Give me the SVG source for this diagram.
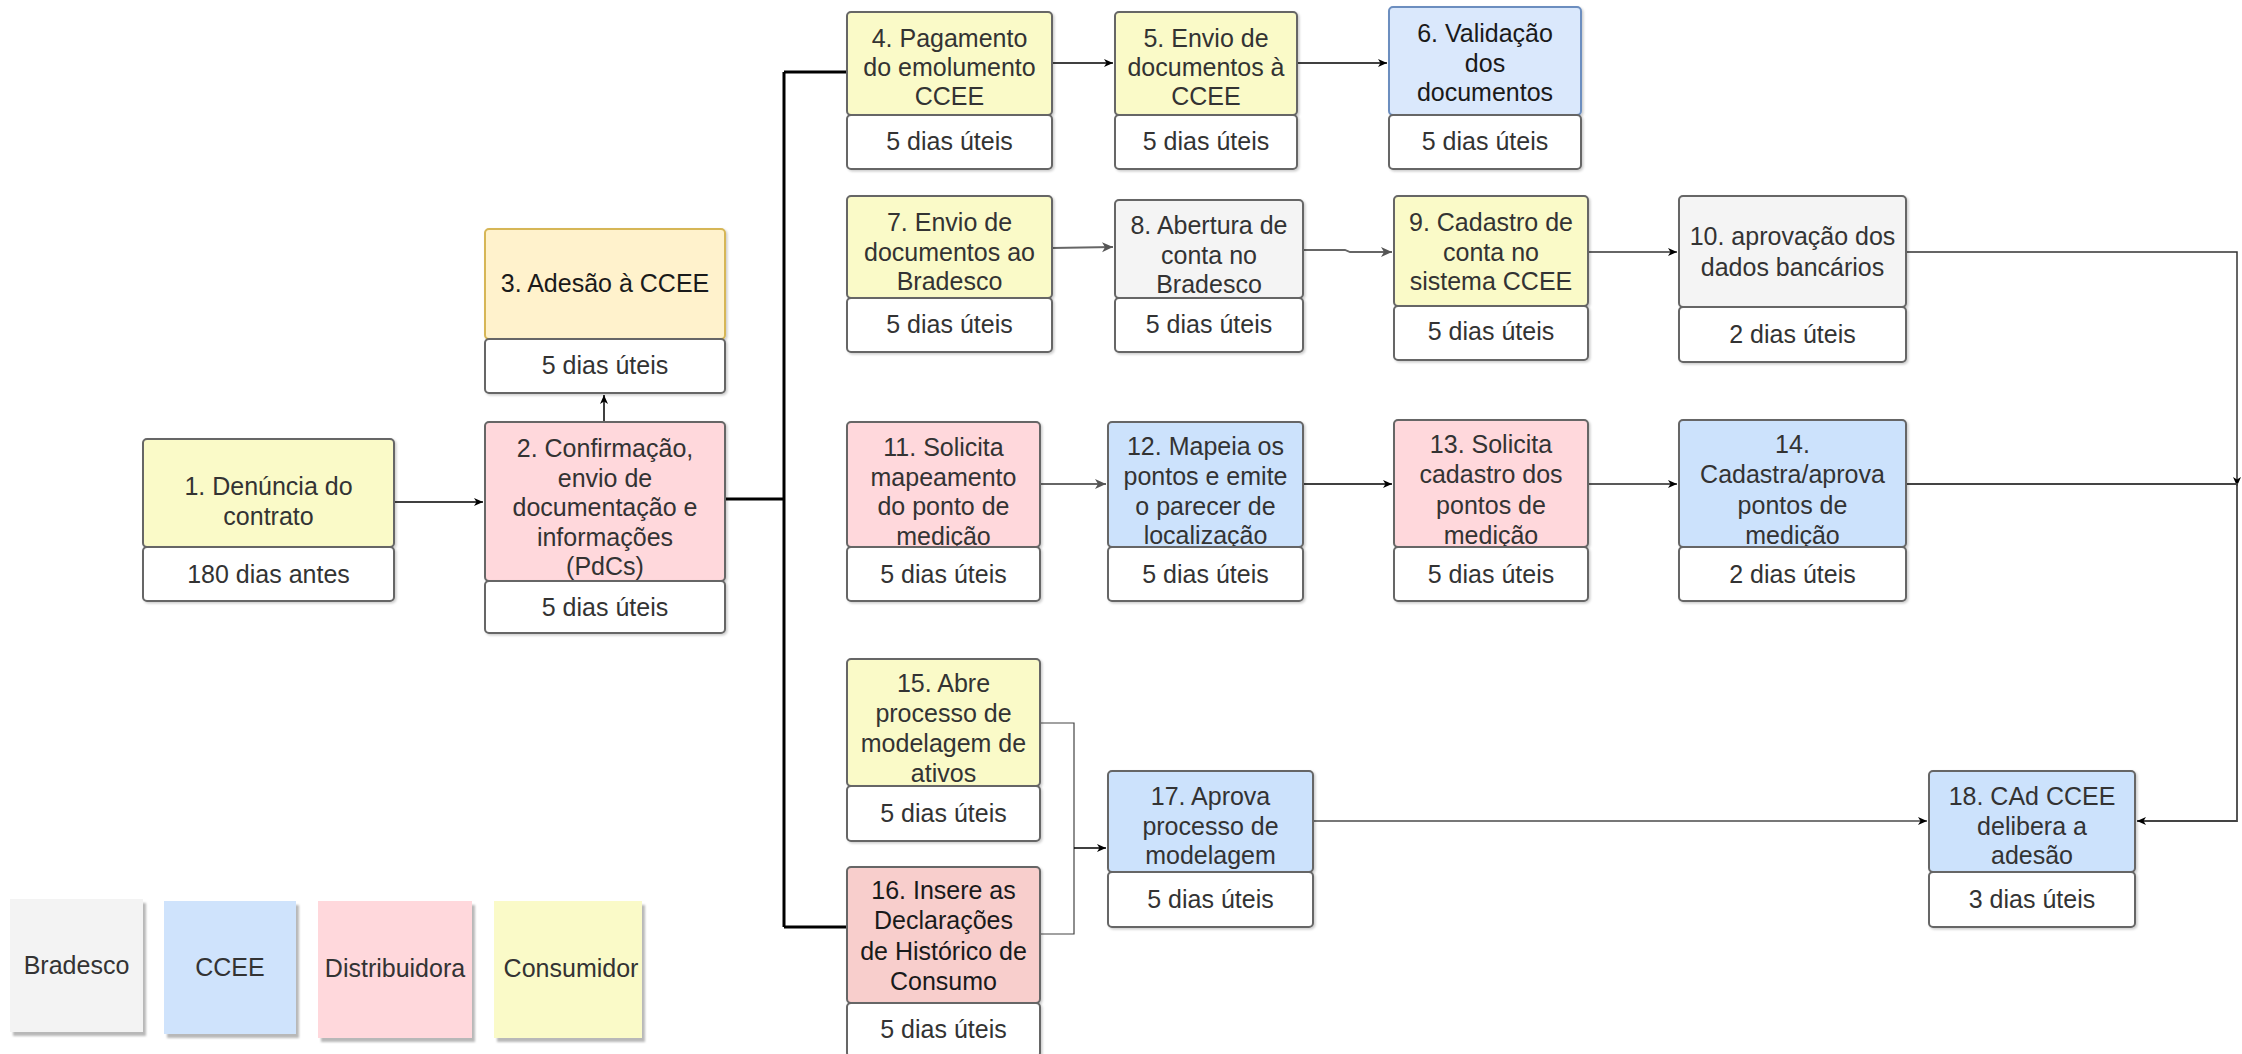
<svg xmlns="http://www.w3.org/2000/svg" width="2242" height="1054" viewBox="0 0 2242 1054">
<defs>
<style>
.t{font-family:"Liberation Sans",Arial,sans-serif;font-size:25px;fill:#333;text-anchor:middle}
.dk{fill:#1a1a1a}
.b{stroke:#666;stroke-width:2;filter:url(#sh)}
.sub{fill:#fff}
.y{fill:#fafac8}
.p{fill:#ffd8dc}
.p2{fill:#f8cecc}
.bl{fill:#cce2fc}
.g{fill:#f4f4f4}
.c{fill:none;stroke:#000;stroke-width:1.5}
.cg{fill:none;stroke:#666;stroke-width:1.8}
.thick{fill:none;stroke:#000;stroke-width:3}
.leg{filter:url(#lsh)}
</style>
<filter id="sh" x="-10%" y="-10%" width="130%" height="130%"><feDropShadow dx="1.5" dy="1.5" stdDeviation="1" flood-color="#000" flood-opacity="0.2"/></filter>
<filter id="lsh" x="-10%" y="-10%" width="130%" height="130%"><feDropShadow dx="3" dy="4" stdDeviation="0.8" flood-color="#000" flood-opacity="0.28"/></filter>
<marker id="a" markerWidth="10" markerHeight="10" refX="9" refY="5" orient="auto" markerUnits="userSpaceOnUse"><path d="M0,1 L9,5 L0,9 L2.5,5 Z" fill="#000"/></marker>
<marker id="ag" markerWidth="12" markerHeight="12" refX="11" refY="6" orient="auto" markerUnits="userSpaceOnUse"><path d="M0,1 L11,6 L0,11 L3,6 Z" fill="#555"/></marker>
</defs>
<rect width="2242" height="1054" fill="#fff"/>

<g id="connectors">
<path class="c" d="M394,502 L483,502" marker-end="url(#a)"/>
<path class="c" d="M604,422 L604,395" marker-end="url(#a)"/>
<path class="thick" d="M725,499 L784,499 M784,72 L784,927 M784,72 L847,72 M784,927 L847,927"/>
<path class="c" d="M1052,63 L1113,63" marker-end="url(#a)"/>
<path class="c" d="M1297,63 L1387,63" marker-end="url(#a)"/>
<path class="cg" d="M1052,248 L1113,247" marker-end="url(#ag)"/>
<path class="cg" d="M1303,250 L1345,250 L1350,252 L1392,252" marker-end="url(#ag)"/>
<path class="c" style="stroke:#333" d="M1588,252 L1677,252" marker-end="url(#a)"/>
<path class="c" style="stroke:#333" d="M1906,252 L2237,252 L2237,486" marker-end="url(#a)"/>
<path class="cg" d="M1040,484 L1106,484" marker-end="url(#ag)"/>
<path class="c" d="M1303,484 L1392,484" marker-end="url(#a)"/>
<path class="c" style="stroke:#222" d="M1588,484 L1677,484" marker-end="url(#a)"/>
<path class="cg" style="stroke:#444" d="M1906,484 L2237,484 L2237,821 L2137,821" marker-end="url(#a)"/>
<path class="c" style="stroke:#444;stroke-width:1.2" d="M1040,723 L1074,723 L1074,934 L1040,934"/>
<path class="c" d="M1074,848 L1106,848" marker-end="url(#a)"/>
<path class="cg" style="stroke:#777;stroke-width:2.2" d="M1313,821 L1927,821" marker-end="url(#a)"/>
</g>

<g id="node1">
<rect class="b y" x="143" y="439" width="251" height="108" rx="4"/>
<text class="t" x="268.5" y="495">1. Denúncia do</text>
<text class="t" x="268.5" y="525">contrato</text>
<rect class="b sub" x="143" y="547" width="251" height="54" rx="4"/>
<text class="t" x="268.5" y="583">180 dias antes</text>
</g>

<g id="node2">
<rect class="b p" x="485" y="422" width="240" height="159" rx="4"/>
<text class="t" x="605" y="457">2. Confirmação,</text>
<text class="t" x="605" y="487">envio de</text>
<text class="t" x="605" y="516">documentação e</text>
<text class="t" x="605" y="546">informações</text>
<text class="t" x="605" y="575">(PdCs)</text>
<rect class="b sub" x="485" y="581" width="240" height="52" rx="4"/>
<text class="t" x="605" y="616">5 dias úteis</text>
</g>

<g id="node3">
<rect x="485" y="229" width="240" height="110" rx="4" fill="#fff2cc" stroke="#d6b656" stroke-width="2" filter="url(#sh)"/>
<text class="t dk" x="605" y="292">3. Adesão à CCEE</text>
<rect class="b sub" x="485" y="339" width="240" height="54" rx="4"/>
<text class="t" x="605" y="374">5 dias úteis</text>
</g>

<g id="node4">
<rect class="b y" x="847" y="12" width="205" height="103" rx="4"/>
<text class="t" x="949.5" y="47">4. Pagamento</text>
<text class="t" x="949.5" y="76">do emolumento</text>
<text class="t" x="949.5" y="105">CCEE</text>
<rect class="b sub" x="847" y="115" width="205" height="54" rx="4"/>
<text class="t" x="949.5" y="150">5 dias úteis</text>
</g>

<g id="node5">
<rect class="b y" x="1115" y="12" width="182" height="103" rx="4"/>
<text class="t" x="1206" y="47">5. Envio de</text>
<text class="t" x="1206" y="76">documentos à</text>
<text class="t" x="1206" y="105">CCEE</text>
<rect class="b sub" x="1115" y="115" width="182" height="54" rx="4"/>
<text class="t" x="1206" y="150">5 dias úteis</text>
</g>

<g id="node6">
<rect x="1389" y="7" width="192" height="108" rx="4" fill="#dae8fc" stroke="#6c8ebf" stroke-width="2" filter="url(#sh)"/>
<text class="t dk" x="1485" y="42">6. Validação</text>
<text class="t dk" x="1485" y="72">dos</text>
<text class="t dk" x="1485" y="101">documentos</text>
<rect class="b sub" x="1389" y="115" width="192" height="54" rx="4"/>
<text class="t" x="1485" y="150">5 dias úteis</text>
</g>

<g id="node7">
<rect class="b y" x="847" y="196" width="205" height="102" rx="4"/>
<text class="t" x="949.5" y="231">7. Envio de</text>
<text class="t" x="949.5" y="261">documentos ao</text>
<text class="t" x="949.5" y="290">Bradesco</text>
<rect class="b sub" x="847" y="298" width="205" height="54" rx="4"/>
<text class="t" x="949.5" y="333">5 dias úteis</text>
</g>

<g id="node8">
<rect class="b g" x="1115" y="200" width="188" height="98" rx="4"/>
<text class="t" x="1209" y="234">8. Abertura de</text>
<text class="t" x="1209" y="264">conta no</text>
<text class="t" x="1209" y="293">Bradesco</text>
<rect class="b sub" x="1115" y="298" width="188" height="54" rx="4"/>
<text class="t" x="1209" y="333">5 dias úteis</text>
</g>

<g id="node9">
<rect class="b y" x="1394" y="196" width="194" height="110" rx="4"/>
<text class="t" x="1491" y="231">9. Cadastro de</text>
<text class="t" x="1491" y="261">conta no</text>
<text class="t" x="1491" y="290">sistema CCEE</text>
<rect class="b sub" x="1394" y="306" width="194" height="54" rx="4"/>
<text class="t" x="1491" y="340">5 dias úteis</text>
</g>

<g id="node10">
<rect class="b g" x="1679" y="196" width="227" height="111" rx="4"/>
<text class="t" x="1792.5" y="245">10. aprovação dos</text>
<text class="t" x="1792.5" y="276">dados bancários</text>
<rect class="b sub" x="1679" y="307" width="227" height="55" rx="4"/>
<text class="t" x="1792.5" y="343">2 dias úteis</text>
</g>

<g id="node11">
<rect class="b p" x="847" y="422" width="193" height="125" rx="4"/>
<text class="t" x="943.5" y="456">11. Solicita</text>
<text class="t" x="943.5" y="486">mapeamento</text>
<text class="t" x="943.5" y="515">do ponto de</text>
<text class="t" x="943.5" y="545">medição</text>
<rect class="b sub" x="847" y="547" width="193" height="54" rx="4"/>
<text class="t" x="943.5" y="583">5 dias úteis</text>
</g>

<g id="node12">
<rect class="b bl" x="1108" y="422" width="195" height="125" rx="4"/>
<text class="t" x="1205.5" y="455">12. Mapeia os</text>
<text class="t" x="1205.5" y="485">pontos e emite</text>
<text class="t" x="1205.5" y="515">o parecer de</text>
<text class="t" x="1205.5" y="544">localização</text>
<rect class="b sub" x="1108" y="547" width="195" height="54" rx="4"/>
<text class="t" x="1205.5" y="583">5 dias úteis</text>
</g>

<g id="node13">
<rect class="b p" x="1394" y="420" width="194" height="127" rx="4"/>
<text class="t" x="1491" y="453">13. Solicita</text>
<text class="t" x="1491" y="483">cadastro dos</text>
<text class="t" x="1491" y="514">pontos de</text>
<text class="t" x="1491" y="544">medição</text>
<rect class="b sub" x="1394" y="547" width="194" height="54" rx="4"/>
<text class="t" x="1491" y="583">5 dias úteis</text>
</g>

<g id="node14">
<rect class="b bl" x="1679" y="420" width="227" height="127" rx="4"/>
<text class="t" x="1792.5" y="453">14.</text>
<text class="t" x="1792.5" y="483">Cadastra/aprova</text>
<text class="t" x="1792.5" y="514">pontos de</text>
<text class="t" x="1792.5" y="544">medição</text>
<rect class="b sub" x="1679" y="547" width="227" height="54" rx="4"/>
<text class="t" x="1792.5" y="583">2 dias úteis</text>
</g>

<g id="node15">
<rect class="b y" x="847" y="659" width="193" height="127" rx="4"/>
<text class="t" x="943.5" y="692">15. Abre</text>
<text class="t" x="943.5" y="722">processo de</text>
<text class="t" x="943.5" y="752">modelagem de</text>
<text class="t" x="943.5" y="782">ativos</text>
<rect class="b sub" x="847" y="786" width="193" height="55" rx="4"/>
<text class="t" x="943.5" y="822">5 dias úteis</text>
</g>

<g id="node16">
<rect class="b p2" x="847" y="867" width="193" height="136" rx="4"/>
<text class="t dk" x="943.5" y="899">16. Insere as</text>
<text class="t dk" x="943.5" y="929">Declarações</text>
<text class="t dk" x="943.5" y="960">de Histórico de</text>
<text class="t dk" x="943.5" y="990">Consumo</text>
<rect class="b sub" x="847" y="1003" width="193" height="54" rx="4"/>
<text class="t" x="943.5" y="1038">5 dias úteis</text>
</g>

<g id="node17">
<rect class="b bl" x="1108" y="771" width="205" height="101" rx="4"/>
<text class="t" x="1210.5" y="805">17. Aprova</text>
<text class="t" x="1210.5" y="835">processo de</text>
<text class="t" x="1210.5" y="864">modelagem</text>
<rect class="b sub" x="1108" y="872" width="205" height="55" rx="4"/>
<text class="t" x="1210.5" y="908">5 dias úteis</text>
</g>

<g id="node18">
<rect class="b bl" x="1929" y="771" width="206" height="101" rx="4"/>
<text class="t" x="2032" y="805">18. CAd CCEE</text>
<text class="t" x="2032" y="835">delibera a</text>
<text class="t" x="2032" y="864">adesão</text>
<rect class="b sub" x="1929" y="872" width="206" height="55" rx="4"/>
<text class="t" x="2032" y="908">3 dias úteis</text>
</g>

<g id="legend">
<g id="leg-bradesco"><rect class="leg" x="10" y="899" width="133" height="133" fill="#f3f3f3"/><text class="t" x="76.5" y="974">Bradesco</text></g>
<g id="leg-ccee"><rect class="leg" x="164" y="901" width="132" height="133" fill="#cfe3fc"/><text class="t" x="230" y="976">CCEE</text></g>
<g id="leg-distribuidora"><rect class="leg" x="318" y="901" width="154" height="137" fill="#ffd8dc"/><text class="t" x="395" y="977">Distribuidora</text></g>
<g id="leg-consumidor"><rect class="leg" x="494" y="901" width="148" height="137" fill="#fafac8"/><text class="t" x="571" y="977">Consumidor</text></g>
</g>
</svg>
